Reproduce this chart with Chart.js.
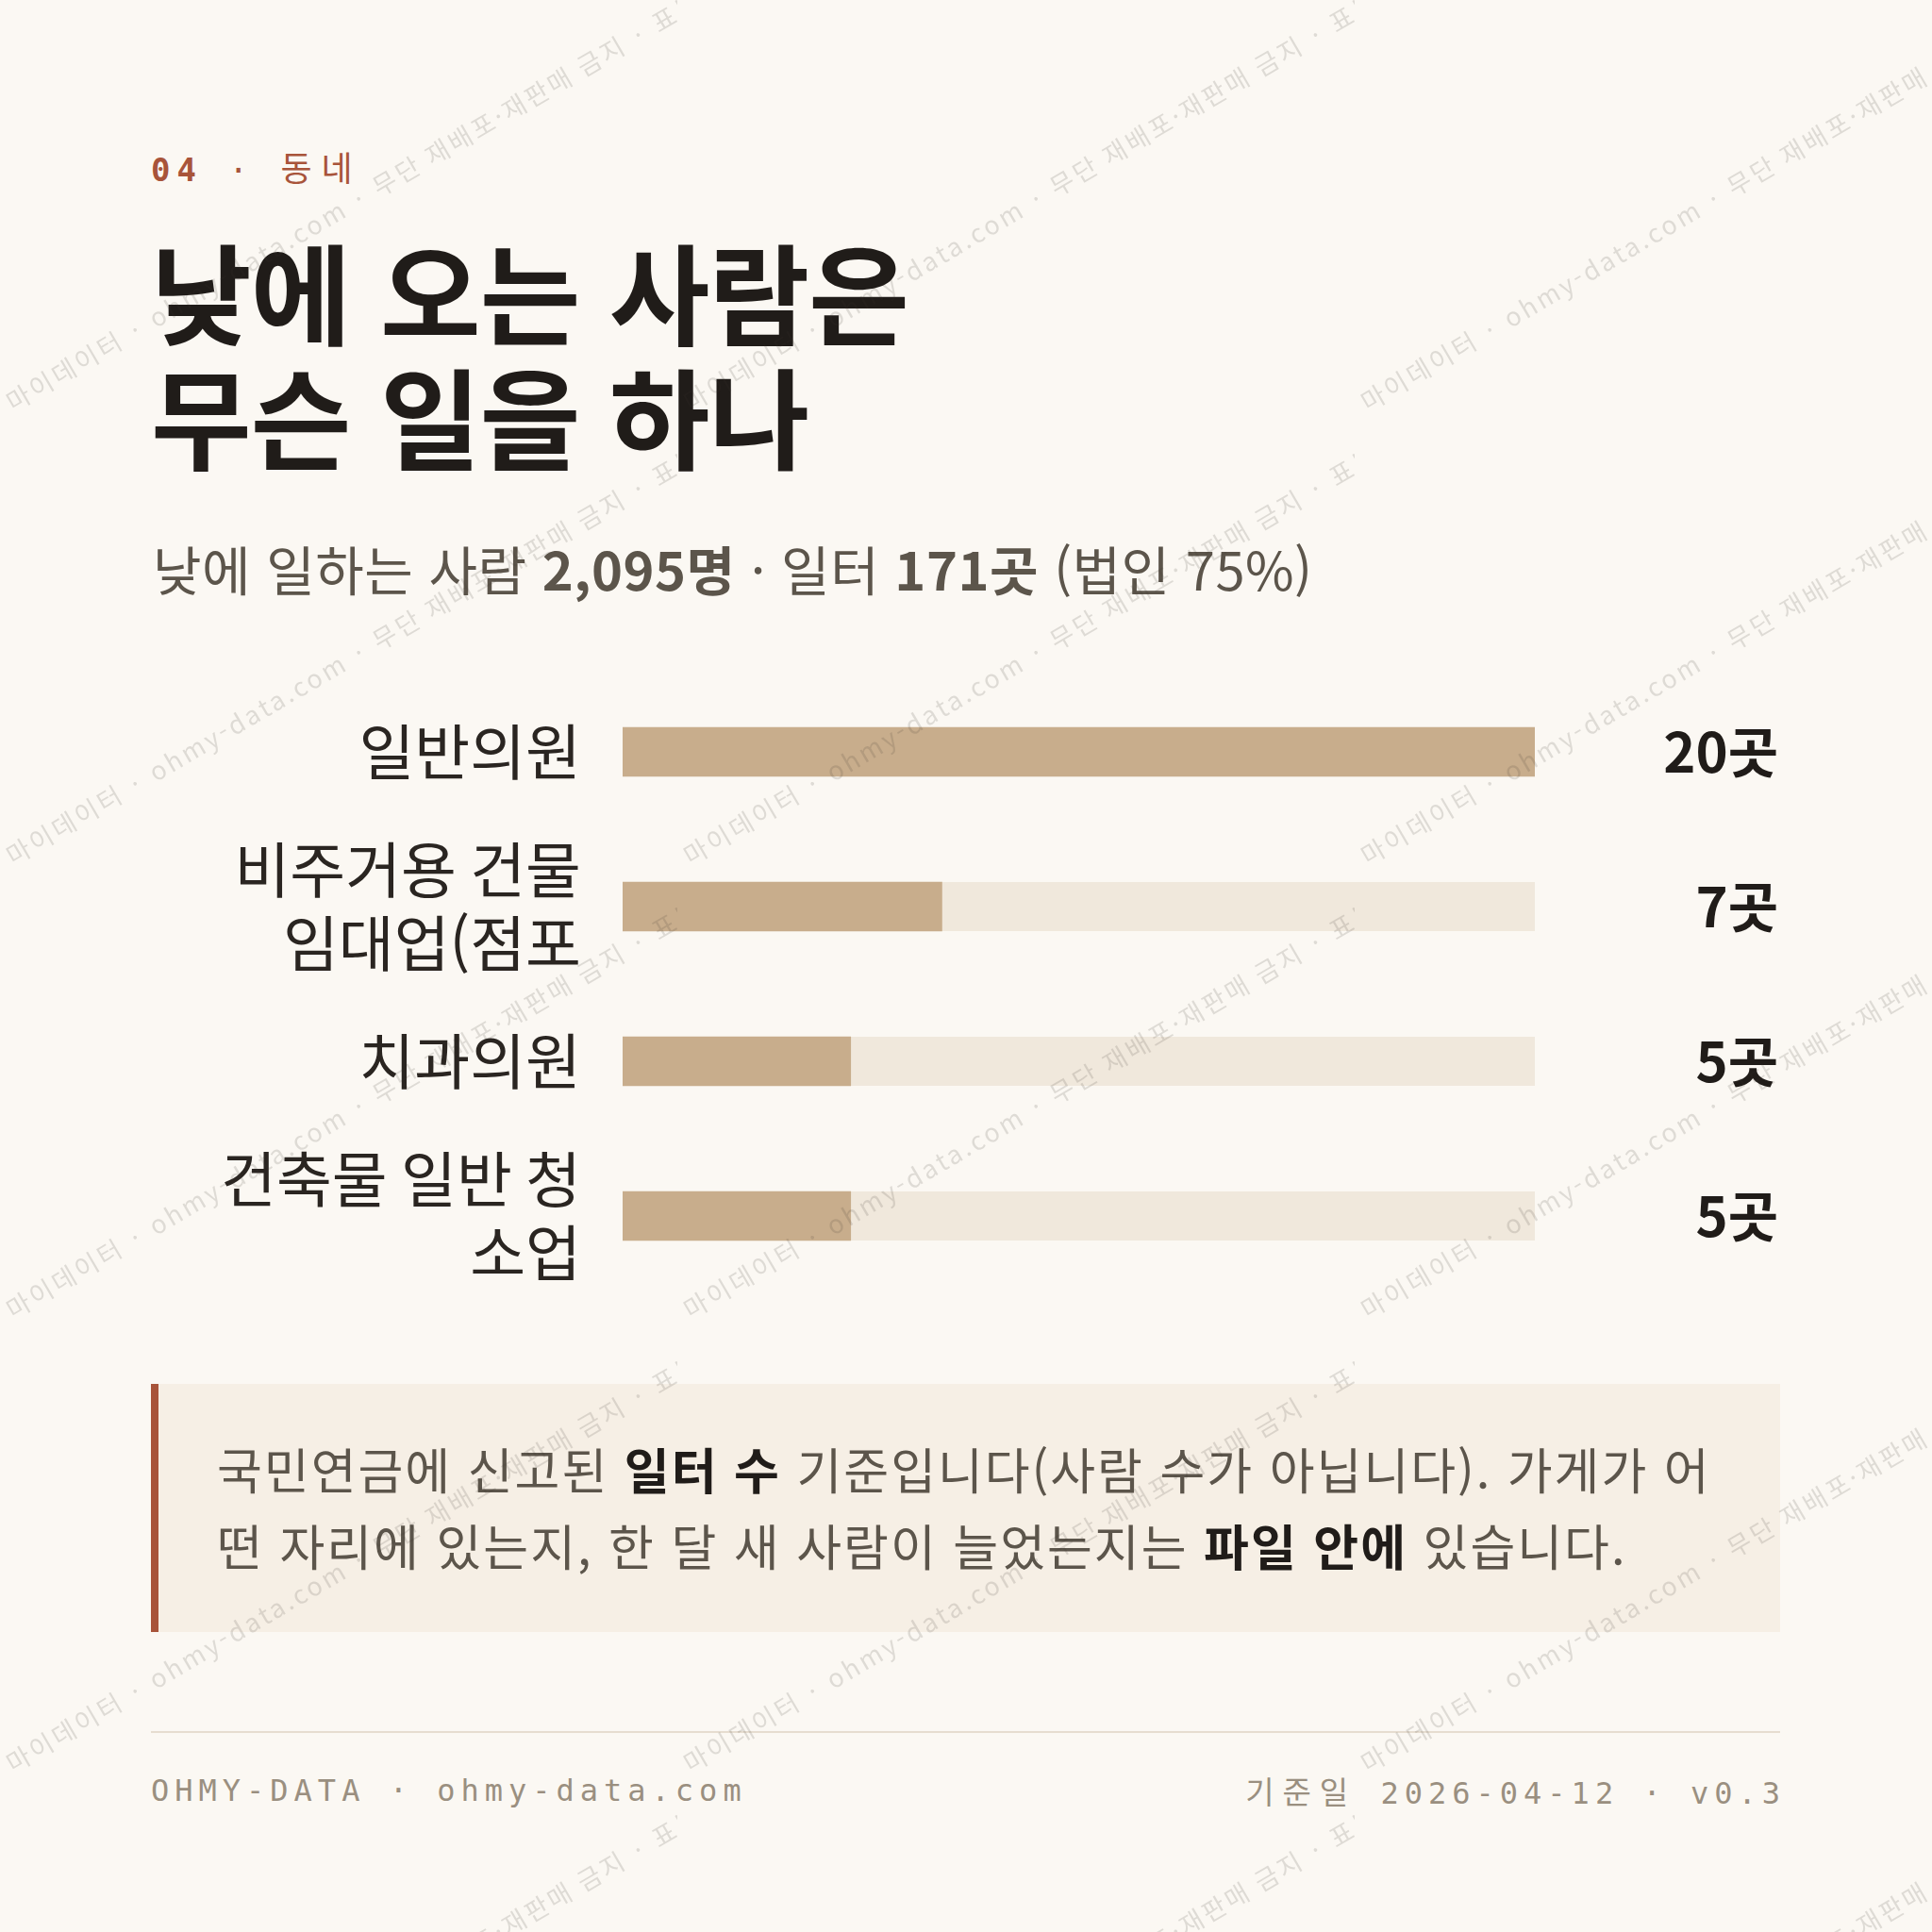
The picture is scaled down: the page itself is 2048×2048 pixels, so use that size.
<!DOCTYPE html>
<html lang="ko">
<head>
<meta charset="utf-8">
<title>낮에 오는 사람은 무슨 일을 하나</title>
<script src="https://cdn.jsdelivr.net/npm/chart.js@4.4.1/dist/chart.umd.min.js"></script>
<style>
  html, body { margin: 0; padding: 0; }
  body { width: 2048px; height: 2048px; background: #fbf8f3; position: relative; overflow: hidden;
         font-family: "Noto Sans CJK KR", "Noto Sans", sans-serif; }
  .abs { position: absolute; }
  #kicker { left: 160px; top: 156px; font: 34px/40px "DejaVu Sans Mono", monospace; letter-spacing: 7px; color: #a8543a; white-space: nowrap; }
  #kicker b { font-weight: 700; }
  #kicker .ko { font-family: "Noto Sans CJK KR", sans-serif; font-size: 36px; letter-spacing: 10px; }
  #title { left: 160px; top: 240px; font-size: 116px; line-height: 132px; font-weight: 700; color: #201c19; letter-spacing: -1px; white-space: nowrap; }
  #sub { left: 162px; top: 570px; font-size: 56px; line-height: 64px; color: #5c554b; letter-spacing: 0.5px; white-space: nowrap; }
  #sub b { font-weight: 700; }
  #chartBox { left: 160px; top: 715px; width: 1727px; height: 656px; }
  #note { left: 160px; top: 1467px; width: 1719px; height: 263px; background: #f6efe5; border-left: 8px solid #a8543a; }
  #note p { margin: 0; padding: 49px 0 0 62px; font-size: 52px; line-height: 81px; color: #5c554b; letter-spacing: 2px; white-space: nowrap; }
  #note b { color: #201c19; font-weight: 700; }
  #rule { left: 160px; top: 1835px; width: 1727px; height: 2px; background: #e6ddd0; }
  .foot { top: 1878px; font: 32px/40px "DejaVu Sans Mono", monospace; letter-spacing: 6px; color: #9a8f80; white-space: nowrap; }
  .foot .ko { font-family: "Noto Sans CJK KR", sans-serif; font-size: 33px; letter-spacing: 9px; }
  #footL { left: 160px; }
  #footR { right: 155px; }
  #wm { left: 0; top: 0; pointer-events: none; }
</style>
</head>
<body>
<div id="kicker" class="abs"><b>04</b> · <span class="ko">동네</span></div>
<div id="title" class="abs">낮에 오는 사람은<br>무슨 일을 하나</div>
<div id="sub" class="abs">낮에 일하는 사람 <b>2,095명</b> · 일터 <b>171곳</b> (법인 75%)</div>
<div id="chartBox" class="abs"><canvas id="chart" width="1727" height="656"></canvas></div>
<div id="note" class="abs"><p>국민연금에 신고된 <b>일터 수</b> 기준입니다(사람 수가 아닙니다). 가게가 어<br>떤 자리에 있는지, 한 달 새 사람이 늘었는지는 <b>파일 안에</b> 있습니다.</p></div>
<div id="rule" class="abs"></div>
<div id="footL" class="abs foot">OHMY-DATA · ohmy-data.com</div>
<div id="footR" class="abs foot"><span class="ko">기준일</span> 2026-04-12 · v0.3</div>
<canvas id="wm" class="abs" width="2048" height="2048"></canvas>

<script>
// 업종별 일터 수 (낮에 오는 사람)
const categories = [
  ['일반의원'],
  ['비주거용 건물', '임대업(점포'],
  ['치과의원'],
  ['건축물 일반 청', '소업']
];
const counts = [20, 7, 5, 5];
const unit = '곳';
const axisMax = 20;

const barColor = '#c8ad8c';
const trackColor = '#f0e8dc';
const inkColor = '#201c19';

// 막대 뒤 옅은 트랙
const trackPlugin = {
  id: 'track',
  beforeDatasetsDraw(chart) {
    const ctx = chart.ctx;
    const x = chart.scales.x;
    const meta = chart.getDatasetMeta(0);
    const x0 = x.getPixelForValue(0);
    const x1 = x.getPixelForValue(axisMax);
    ctx.save();
    ctx.fillStyle = trackColor;
    meta.data.forEach(bar => {
      const h = bar.height;
      ctx.fillRect(x0, bar.y - h / 2, x1 - x0, h);
    });
    ctx.restore();
  }
};

// 오른쪽 끝 값 라벨
const valuePlugin = {
  id: 'values',
  afterDatasetsDraw(chart) {
    const ctx = chart.ctx;
    const meta = chart.getDatasetMeta(0);
    ctx.save();
    ctx.font = '700 58px "Noto Sans CJK KR"';
    ctx.fillStyle = inkColor;
    ctx.textAlign = 'right';
    ctx.textBaseline = 'middle';
    meta.data.forEach((bar, i) => {
      ctx.fillText(counts[i] + unit, chart.chartArea.right + 258, bar.y);
    });
    ctx.restore();
  }
};

let grafico;
function drawChart() {
  const ctx = document.getElementById('chart').getContext('2d');
  grafico = new Chart(ctx, {
    type: 'bar',
    data: {
      labels: categories,
      datasets: [{
        data: counts,
        backgroundColor: barColor,
        borderWidth: 0,
        barThickness: 52
      }]
    },
    options: {
      indexAxis: 'y',
      responsive: false,
      animation: false,
      layout: { padding: { left: 0, right: 260, top: 0, bottom: 0 } },
      plugins: { legend: { display: false }, tooltip: { enabled: false } },
      scales: {
        x: { display: false, min: 0, max: axisMax },
        y: {
          grid: { display: false, drawTicks: false },
          border: { display: false },
          ticks: {
            color: '#2a2521',
            padding: 44,
            font: { family: '"Noto Sans CJK KR"', size: 64, weight: '400', lineHeight: 1.22 }
          },
          afterFit(scale) {
            scale.width = 500;
            // 라벨 높이만큼 위아래가 줄어들지 않게
            scale.paddingTop = 0;
            scale.paddingBottom = 0;
          }
        }
      }
    },
    plugins: [trackPlugin, valuePlugin]
  });
}

// 워터마크
function drawWatermark() {
  const c = document.getElementById('wm');
  const ctx = c.getContext('2d');
  const text = '마이데이터 · ohmy-data.com · 무단 재배포·재판매 금지 · 표본';
  const tileW = 718, tileH = 481;
  ctx.font = '400 27px "Noto Sans CJK KR"';
  ctx.letterSpacing = '3px';
  ctx.fillStyle = 'rgba(60, 55, 50, 0.15)';
  for (let ty = 0; ty < 2048; ty += tileH) {
    for (let tx = 0; tx < 2048; tx += tileW) {
      ctx.save();
      ctx.beginPath();
      ctx.rect(tx, ty, tileW, tileH);
      ctx.clip();
      ctx.translate(tx + 14, ty + 437);
      ctx.rotate(-30.4 * Math.PI / 180);
      ctx.fillText(text, 0, 0);
      ctx.restore();
    }
  }
}

window.onload = () => {
  drawChart();
  drawWatermark();
};
</script>
</body>
</html>
